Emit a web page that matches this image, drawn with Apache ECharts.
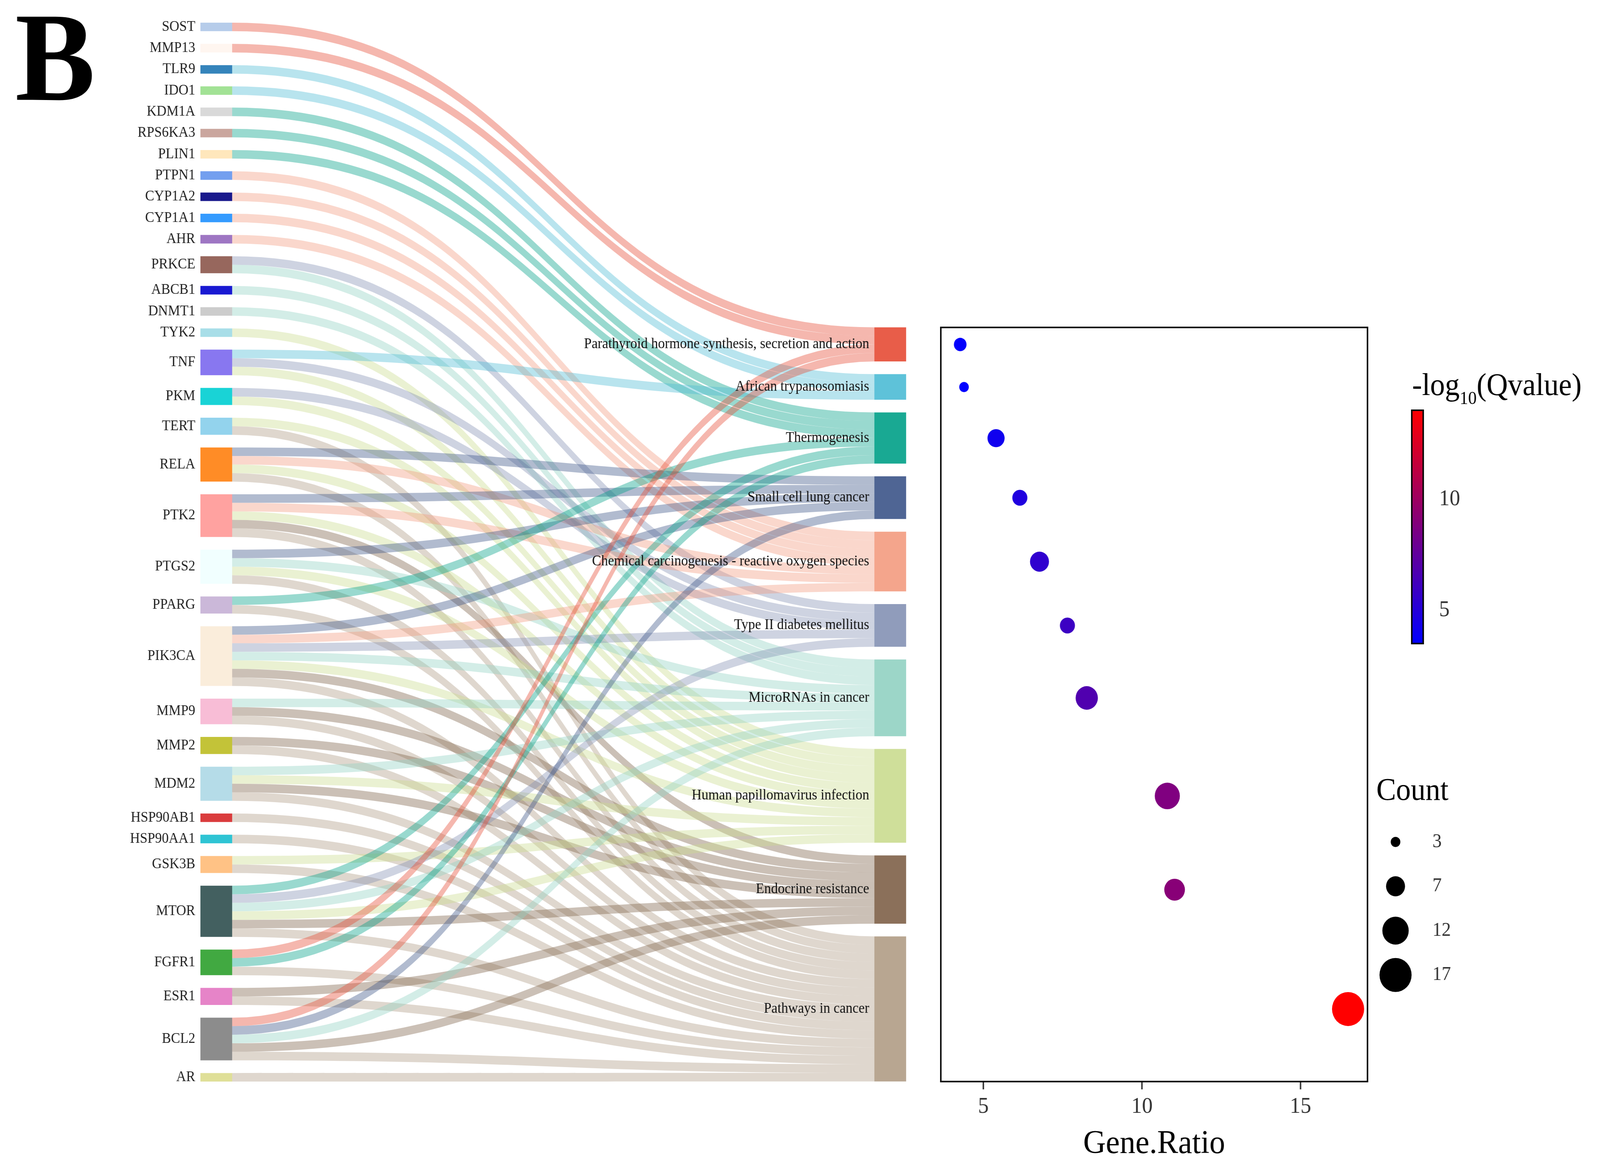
<!DOCTYPE html>
<html>
<head>
<meta charset="utf-8">
<script src="https://cdn.jsdelivr.net/npm/echarts@6/dist/echarts.min.js"></script>
<style>
  html, body { margin: 0; padding: 0; background: #fff; overflow: hidden; }
  #main { width: 4335px; height: 2979px; transform-origin: 0 0; }
</style>
</head>
<body>
<div id="main"></div>
<script>
const FONT = '"Liberation Serif", "Times New Roman", serif';

const genes = ['SOST', 'MMP13', 'TLR9', 'IDO1', 'KDM1A', 'RPS6KA3', 'PLIN1', 'PTPN1', 'CYP1A2', 'CYP1A1',
  'AHR', 'PRKCE', 'ABCB1', 'DNMT1', 'TYK2', 'TNF', 'PKM', 'TERT', 'RELA', 'PTK2', 'PTGS2', 'PPARG',
  'PIK3CA', 'MMP9', 'MMP2', 'MDM2', 'HSP90AB1', 'HSP90AA1', 'GSK3B', 'MTOR', 'FGFR1', 'ESR1', 'BCL2', 'AR'];
const geneColors = ['#AEC7E8', '#FFF5EE', '#1F77B4', '#98DF8A', '#D5D5D5', '#C49C94', '#FFE4B5', '#6495ED',
  '#000080', '#1E90FF', '#9467BD', '#8C564B', '#0000CD', '#C7C7C7', '#9EDAE5', '#7B68EE', '#00CED1',
  '#87CEEB', '#FF7F0E', '#FF9896', '#F0FFFF', '#C5B0D5', '#FAEBD7', '#F7B6D2', '#BCBD22', '#ADD8E6',
  '#D62728', '#17BECF', '#FFBB78', '#2F4F4F', '#2CA02C', '#E377C2', '#7F7F7F', '#DBDB8D'];

const pathways = ['Parathyroid hormone synthesis, secretion and action', 'African trypanosomiasis',
  'Thermogenesis', 'Small cell lung cancer', 'Chemical carcinogenesis - reactive oxygen species',
  'Type II diabetes mellitus', 'MicroRNAs in cancer', 'Human papillomavirus infection',
  'Endocrine resistance', 'Pathways in cancer'];
const pathwayColors = ['#E64B35', '#4DBBD5', '#00A087', '#3C5488', '#F39B7F', '#8491B4', '#91D1C2',
  '#CADB8F', '#7E6148', '#B09C85'];

// pathways (index into pathways) that each gene belongs to
const genePathways = [[0], [0], [1], [1], [2], [2], [2], [4], [4], [4], [4], [5, 6], [6], [6], [7],
  [1, 5, 7], [5, 7], [7, 9], [3, 4, 7, 9], [3, 4, 7, 8, 9], [3, 6, 7, 9], [2, 9], [3, 4, 5, 6, 7, 8, 9],
  [6, 8, 9], [8, 9], [6, 7, 8, 9], [9], [9], [7, 9], [2, 5, 6, 7, 8, 9], [0, 2, 9], [8, 9],
  [0, 3, 6, 8, 9], [9]];

const geneRatio = [4.27, 4.39, 5.40, 6.15, 6.77, 7.65, 8.26, 10.80, 11.03, 16.50];
const negLog10Q = [3.62, 3.50, 4.16, 4.82, 5.50, 5.97, 6.80, 8.76, 9.10, 14.02];
const countLevels = [3, 7, 12, 17];
const ratioTicks = [5, 10, 15];
const qTicks = [5, 10];

// ---- derived ----
const counts = pathways.map((p, j) => genePathways.filter(l => l.includes(j)).length);
const totalLinks = counts.reduce((a, b) => a + b, 0);

const SK = { left: 543, top: 58, width: 1912, height: 2710, nodeWidth: 86, nodeGap: 32.5 };
const ky = (SK.height - (genes.length - 1) * SK.nodeGap) / totalLinks;
const gapUnits = SK.nodeGap / ky;
// invisible block that pushes the pathway column down to the bottom
const spacerValue = (genes.length - 1 - pathways.length) * gapUnits * 0.9995;
const rightSpan = totalLinks + (pathways.length - 1) * gapUnits;
const rightTop = SK.top + SK.height - rightSpan * ky;

// centre of each pathway node, measured upward from the bottom of the column
let acc = 0;
const centres = counts.map(c => { const m = acc + c / 2; acc += c + gapUnits; return rightSpan - m; });

const cMin = Math.min(...counts), cMax = Math.max(...counts);
function bubble(c) {
  const dMin = 26, dMax = 87;
  return Math.sqrt(dMin * dMin + (c - cMin) / (cMax - cMin) * (dMax * dMax - dMin * dMin));
}

const rLo = Math.min(...geneRatio), rHi = Math.max(...geneRatio);
const xMin = rLo - 0.05 * (rHi - rLo), xMax = rHi + 0.05 * (rHi - rLo);
const qMin = Math.min(...negLog10Q), qMax = Math.max(...negLog10Q);

const TICK_LEN = 18;

const nodes = genes.map((g, i) => ({ name: g, depth: 0, itemStyle: { color: geneColors[i] } }))
  .concat([{ name: ' ', depth: 1, value: spacerValue, itemStyle: { color: 'rgba(0,0,0,0)', opacity: 0 }, label: { show: false } }])
  .concat(pathways.map((p, j) => ({ name: p, depth: 1, itemStyle: { color: pathwayColors[j] }, label: { color: '#111' } })));

const links = [];
genePathways.forEach((list, i) => list.forEach(j => links.push({ source: genes[i], target: pathways[j], value: 1 })));

// the browser window can be narrower than the figure: squeeze it horizontally to fit
const dom = document.getElementById('main');
const sx = Math.min(1, window.innerWidth / 4335);
dom.style.transform = 'scaleX(' + sx + ')';

const myChart = echarts.init(dom);

myChart.setOption({
  animation: false,
  backgroundColor: '#fff',
  title: [
    { text: 'B', left: 41, top: 9, padding: 0,
      textStyle: { fontSize: 325, lineHeight: 325, fontWeight: 'bold', fontFamily: FONT, color: '#000' } },
    { text: '{m|-log}{s|10}{m|(Qvalue)}', left: 3826, top: 935, padding: 0,
      textStyle: { rich: {
        m: { fontSize: 80, lineHeight: 110, fontFamily: FONT, fontWeight: 'normal', color: '#000' },
        s: { fontSize: 46, lineHeight: 46, verticalAlign: 'bottom', fontFamily: FONT, fontWeight: 'normal', color: '#000' },
      } } },
    { text: 'Count', left: 3729, top: 1986, padding: 0,
      textStyle: { fontSize: 80, lineHeight: 80, fontWeight: 'normal', fontFamily: FONT, color: '#000' } },
  ],
  grid: [
    { left: 2549, width: 1156, top: rightTop, height: rightSpan * ky, show: true, borderColor: '#000',
      borderWidth: 4, backgroundColor: 'transparent', outerBoundsMode: 'none', containLabel: false },
    { left: 3825, width: 31, top: 1050, height: 597, show: true, borderColor: '#000', borderWidth: 4,
      backgroundColor: 'transparent', z: 10, outerBoundsMode: 'none', containLabel: false },
    { left: 3731, width: 100, top: 2098, height: 454, outerBoundsMode: 'none', containLabel: false },
  ],
  xAxis: [
    { gridIndex: 0, type: 'value', min: xMin, max: xMax, position: 'bottom', splitLine: { show: false },
      axisLine: { show: true, onZero: false, lineStyle: { color: '#000', width: 4 } },
      axisTick: { show: false },
      axisLabel: { customValues: ratioTicks, fontSize: 58, color: '#333', margin: 36, fontFamily: FONT },
      name: 'Gene.Ratio', nameLocation: 'middle', nameGap: 118,
      nameTextStyle: { fontSize: 85, color: '#000', fontFamily: FONT } },
    { gridIndex: 1, type: 'value', show: false },
    { gridIndex: 2, type: 'value', show: false, min: -1, max: 1 },
  ],
  yAxis: [
    { gridIndex: 0, type: 'value', min: 0, max: rightSpan, show: false },
    { gridIndex: 1, type: 'value', min: qMin, max: qMax, position: 'right', splitLine: { show: false },
      axisLine: { show: false },
      axisTick: { show: true, length: 18, lineStyle: { color: '#000', width: 4 }, customValues: qTicks },
      axisLabel: { customValues: qTicks, fontSize: 57, color: '#333', margin: 43, fontFamily: FONT } },
    { gridIndex: 2, type: 'category', data: countLevels.map(String), inverse: true, position: 'right',
      axisLine: { show: false }, axisTick: { show: false }, splitLine: { show: false },
      axisLabel: { fontSize: 50, color: '#333', margin: 50, fontFamily: FONT } },
  ],
  visualMap: {
    type: 'continuous', seriesIndex: 1, dimension: 2, min: qMin, max: qMax,
    inRange: { color: ['#0000FF', '#FF0000'] },
    left: 3825, top: 1050, itemWidth: 31, itemHeight: 597, padding: 0,
    calculable: false, orient: 'vertical', borderWidth: 0,
  },
  series: [
    {
      type: 'sankey',
      left: SK.left, top: SK.top, width: SK.width, height: SK.height,
      nodeWidth: SK.nodeWidth, nodeGap: SK.nodeGap,
      layoutIterations: 0, nodeAlign: 'justify', draggable: false,
      emphasis: { disabled: true },
      data: nodes,
      links: links,
      itemStyle: { opacity: 0.9, borderWidth: 0 },
      lineStyle: { color: 'target', opacity: 0.4, curveness: 0.5 },
      label: { position: 'left', distance: 14, fontFamily: FONT, fontSize: 37, color: '#222' },
    },
    {
      type: 'scatter', xAxisIndex: 0, yAxisIndex: 0,
      data: pathways.map((p, j) => ({ name: p, value: [geneRatio[j], centres[j], negLog10Q[j], counts[j]] })),
      symbolSize: v => bubble(v[3]),
      itemStyle: { opacity: 1 },
    },
    {
      type: 'scatter', xAxisIndex: 2, yAxisIndex: 2,
      data: countLevels.map(c => [0, String(c)]),
      symbolSize: v => bubble(Number(v[1])),
      itemStyle: { color: '#000', opacity: 1 },
    },
    {
      // tick marks under the Gene.Ratio axis
      type: 'scatter', xAxisIndex: 0, yAxisIndex: 0, clip: false, silent: true,
      data: ratioTicks.map(t => [t, -(TICK_LEN / 2 + 2) / ky]),
      symbol: 'rect', symbolSize: [4, TICK_LEN],
      itemStyle: { color: '#333', opacity: 1 },
    },
  ],
});
</script>
</body>
</html>
